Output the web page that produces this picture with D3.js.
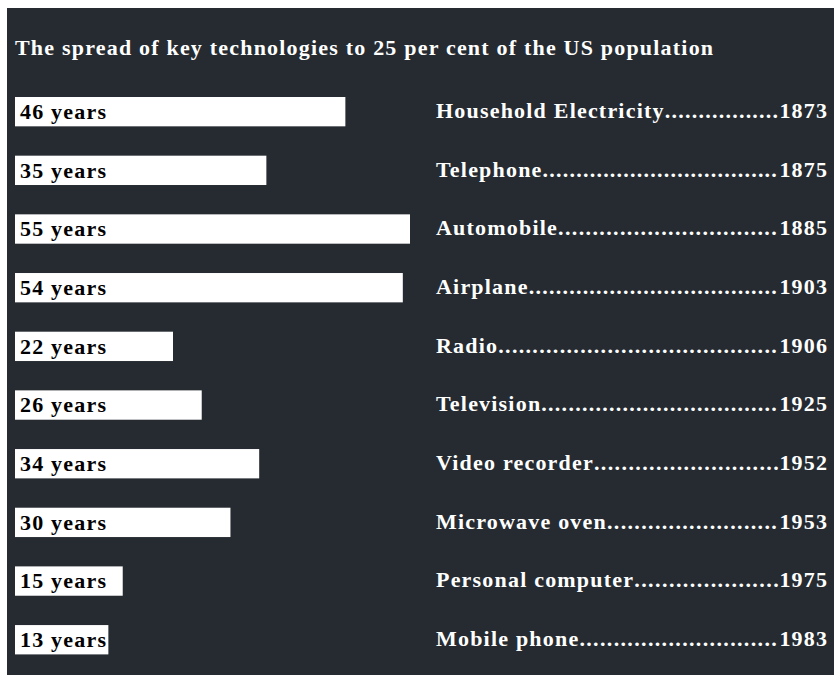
<!DOCTYPE html>
<html>
<head>
<meta charset="utf-8">
<script src="https://cdn.jsdelivr.net/npm/d3@7"></script>
<style>
  body { margin: 0; background: #fff; }
  svg { display: block; }
</style>
</head>
<body>
<svg id="chart"></svg>
<script>
// Data
const technologies = ["Household Electricity", "Telephone", "Automobile", "Airplane", "Radio",
  "Television", "Video recorder", "Microwave oven", "Personal computer", "Mobile phone"];
const years = [46, 35, 55, 54, 22, 26, 34, 30, 15, 13];
const invented = [1873, 1875, 1885, 1903, 1906, 1925, 1952, 1953, 1975, 1983];
const title = "The spread of key technologies to 25 per cent of the US population";

const width = 834, height = 675;
const bg = "#252b31";
const font = "'Liberation Serif', 'DejaVu Serif', serif";
const fs = 22, ls = 1.2;

const svg = d3.select("#chart")
  .attr("width", width)
  .attr("height", height)
  .style("font-family", font)
  .style("letter-spacing", ls + "px");

// dark panel
svg.append("rect")
  .attr("x", 7).attr("y", 8)
  .attr("width", width - 7).attr("height", height - 8)
  .attr("fill", bg);

svg.append("text")
  .attr("x", 15).attr("y", 55)
  .attr("fill", "#fff")
  .attr("font-size", fs)
  .attr("font-weight", "bold")
  .text(title);

const x = d3.scaleLinear().domain([0, 55]).range([15, 410]);
const y = d3.scaleBand()
  .domain(technologies)
  .range([97, 654.4])
  .paddingInner(0.5)
  .paddingOuter(0);

const rows = svg.append("g")
  .selectAll("g")
  .data(technologies.map((t, i) => ({name: t, years: years[i], year: invented[i]})))
  .join("g")
    .attr("transform", d => `translate(0,${y(d.name)})`);

rows.append("rect")
  .attr("x", x(0))
  .attr("width", d => x(d.years) - x(0))
  .attr("height", y.bandwidth())
  .attr("fill", "#fff");

rows.append("text")
  .attr("x", 20)
  .attr("y", 22)
  .attr("font-size", fs)
  .attr("font-weight", "bold")
  .attr("fill", "#000")
  .text(d => `${d.years} years`);

// right-hand labels with dot leaders
const left = 436, right = 827;
rows.each(function(d) {
  const g = d3.select(this);
  const yr = g.append("text")
    .attr("x", right + ls).attr("y", 21)
    .attr("text-anchor", "end")
    .attr("font-size", fs).attr("font-weight", "bold")
    .attr("fill", "#fff")
    .text(d.year);
  const label = g.append("text")
    .attr("x", left).attr("y", 21)
    .attr("font-size", fs).attr("font-weight", "bold")
    .attr("fill", "#fff")
    .text(d.name);
  const dots = label.append("tspan").text(".");
  const dotW = dots.node().getComputedTextLength();
  const room = right - yr.node().getComputedTextLength() - left - label.node().getComputedTextLength() + dotW;
  const n = Math.max(1, Math.floor(room / dotW));
  dots.text(".".repeat(n))
    .style("letter-spacing", (ls + (room - n * dotW) / n) + "px");
});
</script>
</body>
</html>
